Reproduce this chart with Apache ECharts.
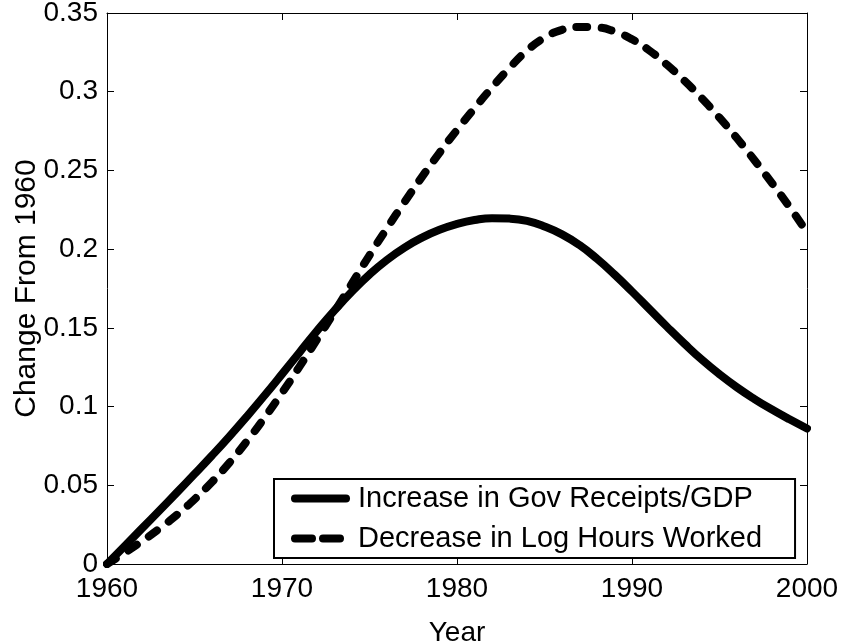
<!DOCTYPE html>
<html>
<head>
<meta charset="utf-8">
<script src="https://cdn.jsdelivr.net/npm/echarts@6/dist/echarts.min.js"></script>
<style>html,body{margin:0;padding:0;background:#fff;}#chart{width:846px;height:643px;}</style>
</head>
<body>
<div id="chart"></div>
<script>
const years = [1960,1961,1962,1963,1964,1965,1966,1967,1968,1969,1970,1971,1972,1973,1974,1975,1976,1977,1978,1979,1980,1981,1982,1983,1984,1985,1986,1987,1988,1989,1990,1991,1992,1993,1994,1995,1996,1997,1998,1999,2000];
const govReceipts = [0,0.0113,0.0226,0.0340,0.0455,0.0571,0.0689,0.0811,0.0938,0.1070,0.1206,0.1344,0.1481,0.1611,0.1731,0.1839,0.1932,0.2010,0.2073,0.2123,0.2160,0.2185,0.2197,0.2194,0.2179,0.2144,0.2094,0.2026,0.1939,0.1839,0.1731,0.1619,0.1507,0.1399,0.1297,0.1205,0.1122,0.1048,0.0981,0.0919,0.0861];
const logHours = [0,0.0070,0.0145,0.0225,0.0313,0.0411,0.0521,0.0644,0.0781,0.0929,0.1087,0.1254,0.1426,0.1603,0.1783,0.1961,0.2133,0.2299,0.2459,0.2612,0.2757,0.2895,0.3027,0.3151,0.3261,0.3343,0.3393,0.3411,0.3408,0.3383,0.3333,0.3261,0.3171,0.3069,0.2957,0.2835,0.2704,0.2565,0.2419,0.2268,0.2108];
const seriesNames = ['Increase in Gov Receipts/GDP','Decrease in Log Hours Worked'];
const xTicks = {min:1960, max:2000, interval:10};
const yTicks = {min:0, max:0.35, interval:0.05};

const FONT = '"Liberation Sans", Arial, Helvetica, sans-serif';
const chart = echarts.init(document.getElementById('chart'), null, {renderer:'canvas'});
const pair = (arr) => years.map((y,i)=>[y,arr[i]]);
const axisCommon = {
  axisLine:{show:true, onZero:false, lineStyle:{color:'#000', width:1}},
  axisTick:{show:true, inside:true, length:7, lineStyle:{color:'#000', width:1}},
  splitLine:{show:false}
};
chart.setOption({
  animation:false,
  backgroundColor:'#fff',
  textStyle:{fontFamily:FONT, color:'#000'},
  grid:{left:107, right:39, top:13, bottom:79, containLabel:false, outerBoundsMode:'none'},
  xAxis:[
    Object.assign({type:'value', position:'bottom', min:xTicks.min, max:xTicks.max, interval:xTicks.interval,
      name:'Year', nameLocation:'middle', nameGap:55, nameMoveOverlap:false,
      nameTextStyle:{fontSize:28, color:'#000', fontFamily:FONT},
      axisLabel:{fontSize:28, color:'#000', fontFamily:FONT, margin:11, formatter:(v)=>String(v)}}, axisCommon),
    Object.assign({type:'value', position:'top', min:xTicks.min, max:xTicks.max, interval:xTicks.interval,
      axisLabel:{show:false}}, axisCommon)
  ],
  yAxis:[
    Object.assign({type:'value', position:'left', min:yTicks.min, max:yTicks.max, interval:yTicks.interval,
      name:'Change From 1960', nameLocation:'middle', nameGap:65, nameMoveOverlap:false,
      nameTextStyle:{fontSize:30, color:'#000', fontFamily:FONT},
      axisLabel:{fontSize:28, color:'#000', fontFamily:FONT, margin:9}}, axisCommon),
    Object.assign({type:'value', position:'right', min:yTicks.min, max:yTicks.max, interval:yTicks.interval,
      axisLabel:{show:false}}, axisCommon)
  ],
  legend:{
    orient:'vertical', left:274, top:479,
    itemWidth:51, itemHeight:26, itemGap:11,
    padding:[5,33,5,17],
    borderColor:'#000', borderWidth:2, backgroundColor:'#fff',
    itemStyle:{color:'transparent', borderWidth:0, opacity:0},
    lineStyle:{width:8, cap:'round'},
    textStyle:{fontSize:29, color:'#000', fontFamily:FONT, padding:[0,0,0,7]},
    data:[
      {name:seriesNames[0]},
      {name:seriesNames[1], lineStyle:{width:8, type:[17,11], cap:'round'}}
    ]
  },
  series:[
    {name:seriesNames[0], type:'line', data:pair(govReceipts), symbol:'none', smooth:true,
      lineStyle:{color:'#000', width:8, cap:'round', join:'round'}, itemStyle:{color:'#000'}},
    {name:seriesNames[1], type:'line', data:pair(logHours), symbol:'none', smooth:true,
      lineStyle:{color:'#000', width:8, type:[10.5,14.5], cap:'round', join:'round'}, itemStyle:{color:'#000'}}
  ]
});
</script>
</body>
</html>
